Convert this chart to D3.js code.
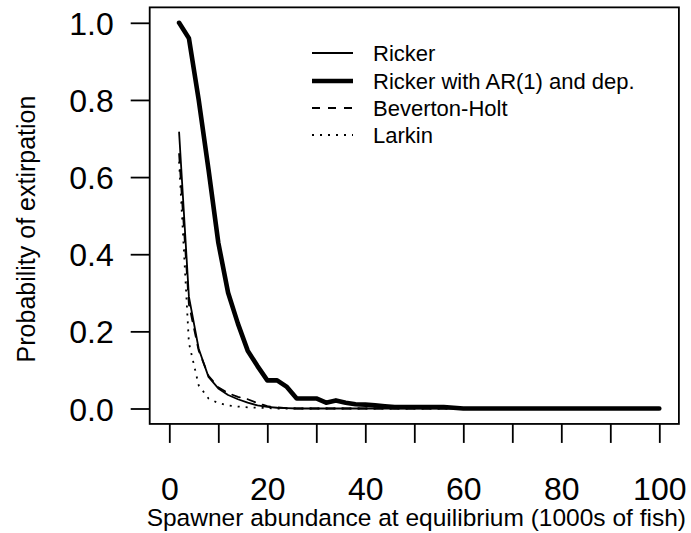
<!DOCTYPE html>
<html><head><meta charset="utf-8">
<script src="https://cdn.jsdelivr.net/npm/d3@7"></script>
<style>body{margin:0;background:#fff}svg{display:block}text{font-family:"Liberation Sans",Arial,sans-serif;fill:#000}</style>
</head><body>
<svg id="c" width="691" height="533"></svg>
<script>
// Data (spawner abundance at equilibrium, 1000s of fish)
const xVals = d3.range(2, 101, 2);
const ricker = [0.716,0.29,0.155,0.082,0.052,0.035,0.024,0.015,0.008,0.004,0.002,0.001,0,0,0,0,0,0,0,0,0,0,0,0,0,0,0,0,0,0,0,0,0,0,0,0,0,0,0,0,0,0,0,0,0,0,0,0,0,0];
const rickerAR = [1.0,0.96,0.80,0.62,0.43,0.30,0.22,0.15,0.11,0.073,0.073,0.056,0.026,0.026,0.026,0.015,0.021,0.015,0.011,0.010,0.008,0.006,0.004,0.004,0.004,0.004,0.004,0.004,0.002,0,0,0,0,0,0,0,0,0,0,0,0,0,0,0,0,0,0,0,0,0];
const bevHolt = [0.66,0.27,0.15,0.085,0.055,0.04,0.03,0.024,0.014,0.006,0.003,0.001,0,0,0,0,0,0,0,0,0,0,0,0,0,0,0,0,0,0,0,0,0,0,0,0,0,0,0,0,0,0,0,0,0,0,0,0,0,0];
const larkin = [0.64,0.17,0.06,0.026,0.014,0.008,0.005,0.003,0.002,0.001,0,0,0,0,0,0,0,0,0,0,0,0,0,0,0,0,0,0,0,0,0,0,0,0,0,0,0,0,0,0,0,0,0,0,0,0,0,0,0,0];
const xTicks = d3.range(0, 101, 10);
const xLabels = [0, 20, 40, 60, 80, 100];
const yTicks = [0, 0.2, 0.4, 0.6, 0.8, 1.0];
const legendLabels = ["Ricker", "Ricker with AR(1) and dep.", "Beverton-Holt", "Larkin"];
const xTitle = "Spawner abundance at equilibrium (1000s of fish)";
const yTitle = "Probability of extirpation";

const svg = d3.select("#c");
const x = d3.scaleLinear().domain([0, 100]).range([169.3, 659.3]);
const y = d3.scaleLinear().domain([0, 1]).range([408.5, 22.8]);

const styles = [
  {w:1.8, dash:null},
  {w:4.6, dash:null},
  {w:1.8, dash:"8,8"},
  {w:1.8, dash:"2,6"}
];
const seriesList = [ricker, rickerAR, bevHolt, larkin];

// box
const bx0 = x(-4), bx1 = x(104), by0 = y(1.04), by1 = y(-0.04);
svg.append("rect").attr("x", bx0).attr("y", by0).attr("width", bx1-bx0).attr("height", by1-by0)
  .attr("fill","none").attr("stroke","#000").attr("stroke-width",1.8);

// x axis
const xAxis = d3.axisBottom(x).tickValues(xTicks).tickSize(19)
  .tickFormat(d => xLabels.includes(d) ? d : "");
const gx = svg.append("g").attr("transform", `translate(0,${by1})`).call(xAxis);
gx.select(".domain").remove();
gx.selectAll("line").attr("stroke","#000").attr("stroke-width",1.8);
gx.selectAll("text").attr("font-size", 32).attr("dy", null).attr("y", 76)
  .style("font-family",'"Liberation Sans",Arial,sans-serif');

// y axis
const yAxis = d3.axisLeft(y).tickValues(yTicks).tickSize(19).tickFormat(d3.format(".1f"));
const gy = svg.append("g").attr("transform", `translate(${bx0},0)`).call(yAxis);
gy.select(".domain").remove();
gy.selectAll("line").attr("stroke","#000").attr("stroke-width",1.8);
gy.selectAll("text").attr("font-size", 32).attr("x", -36).attr("dy", "0.36em")
  .style("font-family",'"Liberation Sans",Arial,sans-serif');

// lines
const line = d3.line().x((d,i) => x(xVals[i])).y(d => y(d));
seriesList.forEach((s, k) => {
  svg.append("path").datum(s).attr("d", line)
    .attr("fill","none").attr("stroke","#000")
    .attr("stroke-width", styles[k].w)
    .attr("stroke-dasharray", styles[k].dash)
    .attr("stroke-linejoin","round").attr("stroke-linecap", k===3 ? "butt" : "round");
});

// legend
const legY = [53, 81, 108, 135];
legendLabels.forEach((lab, k) => {
  svg.append("line").attr("x1", 312).attr("x2", 353).attr("y1", legY[k]).attr("y2", legY[k])
    .attr("stroke","#000").attr("stroke-width", styles[k].w)
    .attr("stroke-dasharray", styles[k].dash);
  svg.append("text").attr("x", 373).attr("y", legY[k]).attr("dy","0.36em")
    .attr("font-size", 22).text(lab);
});

// titles
svg.append("text").attr("x", (bx0+bx1)/2 + 2).attr("y", 526).attr("text-anchor","middle")
  .attr("font-size", 24.5).text(xTitle);
svg.append("text").attr("transform", `translate(35,229) rotate(-90)`)
  .attr("text-anchor","middle").attr("font-size", 25).text(yTitle);
</script>
</body></html>
